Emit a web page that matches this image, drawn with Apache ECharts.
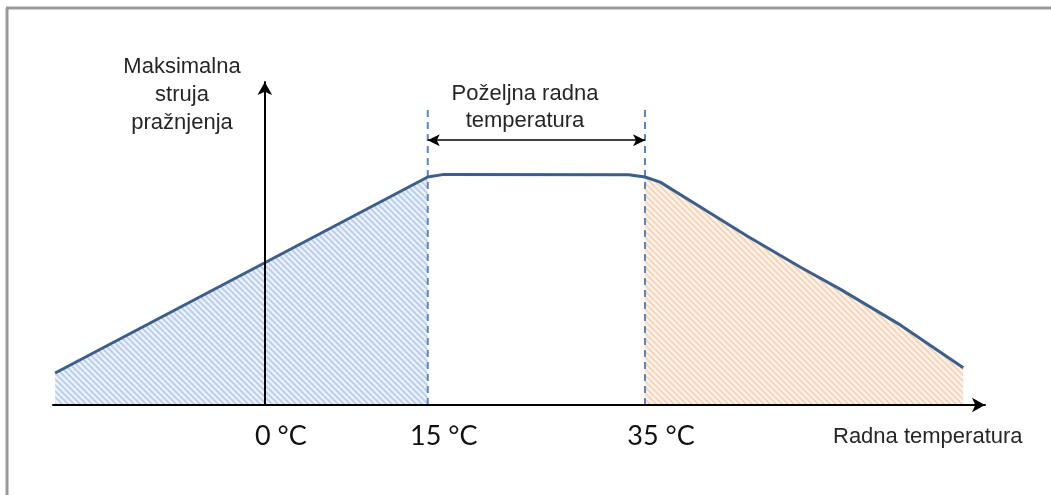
<!DOCTYPE html>
<html>
<head>
<meta charset="utf-8">
<style>
  html, body { margin: 0; padding: 0; background: #fff; }
  #chart { width: 1051px; height: 495px; }
</style>
<script src="https://cdn.jsdelivr.net/npm/echarts@6/dist/echarts.min.js"></script>
</head>
<body>
<div id="chart"></div>
<script>
// temperature (°C) vs. relative max discharge current
const temps = [-19.3, 15, 16.5, 33.5, 35, 36.4, 40.1, 44.4, 49.4, 53.0, 58.5, 64.3];
const current = [9.9, 70.6, 71.4, 71.3, 70.6, 69.0, 61.3, 52.3, 42.5, 35.8, 24.8, 11.5];

const tickTemps = [0, 15, 35];
const optimalRange = [15, 35];
const dashTop = 92;
const arrowLevel = 82;

const textFont = '"Liberation Sans", Arial, sans-serif';

const makeHatch = (stripe, back) => {
    const c = document.createElement('canvas');
    c.width = 6;
    c.height = 6;
    const ctx = c.getContext('2d');
    ctx.fillStyle = back;
    ctx.fillRect(0, 0, 6, 6);
    ctx.strokeStyle = stripe;
    ctx.lineWidth = 2;
    ctx.beginPath();
    ctx.moveTo(-1, -1); ctx.lineTo(7, 7);
    ctx.moveTo(-1, 5); ctx.lineTo(1, 7);
    ctx.moveTo(5, -1); ctx.lineTo(7, 1);
    ctx.stroke();
    return { image: c, repeat: 'repeat' };
};

const curve = temps.map((t, i) => [t, current[i]]);
const coldPart = curve.filter(p => p[0] <= optimalRange[0]);
const hotPart = curve.filter(p => p[0] >= optimalRange[1]);

const dashSeries = (t) => ({
    type: 'line',
    data: [[t, 0], [t, dashTop]],
    symbol: 'none',
    silent: true,
    lineStyle: { color: '#5a86bd', width: 2, type: [7, 5] },
    z: 3
});

const axisLineStyle = {
    show: true,
    symbol: ['none', 'arrow'],
    symbolSize: [11, 13],
    lineStyle: { color: '#000', width: 2 }
};

const getOption = () => {
    return {
        animation: false,
        grid: { left: 53, right: 66, top: 82, bottom: 90 },
        xAxis: {
            type: 'value',
            min: -19.5,
            max: 66.3,
            z: 10,
            splitLine: { show: false },
            axisTick: { show: false },
            axisLine: Object.assign({ onZero: false }, axisLineStyle),
            axisLabel: {
                customValues: tickTemps,
                formatter: '{value} °C',
                fontFamily: 'Lato, sans-serif',
                fontSize: 27,
                color: '#111',
                margin: 18,
                align: 'center',
                padding: [0, 0, 0, 32]
            }
        },
        yAxis: {
            type: 'value',
            min: 0,
            max: 100,
            z: 10,
            splitLine: { show: false },
            axisTick: { show: false },
            axisLabel: { show: false },
            axisLine: Object.assign({ onZero: true }, axisLineStyle)
        },
        series: [
            {
                type: 'line',
                data: coldPart,
                symbol: 'none',
                lineStyle: { width: 0 },
                areaStyle: { color: makeHatch('#bccfe8', '#eef3fa'), opacity: 1 },
                z: 1
            },
            {
                type: 'line',
                data: hotPart,
                symbol: 'none',
                lineStyle: { width: 0 },
                areaStyle: { color: makeHatch('#f6d6ba', '#fdf4ec'), opacity: 1 },
                z: 1
            },
            dashSeries(optimalRange[0]),
            Object.assign(dashSeries(optimalRange[1]), {
                markLine: {
                    silent: true,
                    symbol: ['arrow', 'arrow'],
                    symbolSize: [9, 12],
                    label: { show: false },
                    lineStyle: { color: '#000', width: 1.5, type: 'solid' },
                    data: [[{ coord: [optimalRange[0], arrowLevel] }, { coord: [optimalRange[1], arrowLevel] }]]
                }
            }),
            {
                type: 'line',
                data: curve,
                symbol: 'none',
                lineStyle: { color: '#3b5e8c', width: 3 },
                z: 4
            }
        ],
        graphic: [
            { type: 'line', shape: { x1: 6, y1: 8, x2: 1051, y2: 8 }, style: { stroke: '#9a9a9a', lineWidth: 3 } },
            { type: 'line', shape: { x1: 7, y1: 8, x2: 7, y2: 495 }, style: { stroke: '#9a9a9a', lineWidth: 3 } },
            {
                type: 'text',
                style: { x: 182, y: 95, text: 'Maksimalna\nstruja\npražnjenja', align: 'center', verticalAlign: 'middle',
                    font: '22px ' + textFont, lineHeight: 28, fill: '#262626' }
            },
            {
                type: 'text',
                style: { x: 525, y: 107, text: 'Poželjna radna\ntemperatura', align: 'center', verticalAlign: 'middle',
                    font: '22px ' + textFont, lineHeight: 27, fill: '#262626' }
            },
            {
                type: 'text',
                style: { x: 297, y: 326, text: 'Otežano\nodvijanje\nkemijskih\nreakcija', align: 'left', verticalAlign: 'middle',
                    font: '22px ' + textFont, lineHeight: 26, fill: '#262626' }
            },
            {
                type: 'text',
                style: { x: 697, y: 337, text: 'Degradacija', align: 'left', verticalAlign: 'middle',
                    font: '22px ' + textFont, fill: '#262626' }
            },
            {
                type: 'text',
                style: { x: 833, y: 437, text: 'Radna temperatura', align: 'left', verticalAlign: 'middle',
                    font: '22px ' + textFont, fill: '#262626' }
            }
        ]
    };
};

const initChart = () => {
    const chart = echarts.init(document.getElementById('chart'));
    chart.setOption(getOption());
};

window.addEventListener('load', () => {
    initChart();
});
</script>
</body>
</html>
